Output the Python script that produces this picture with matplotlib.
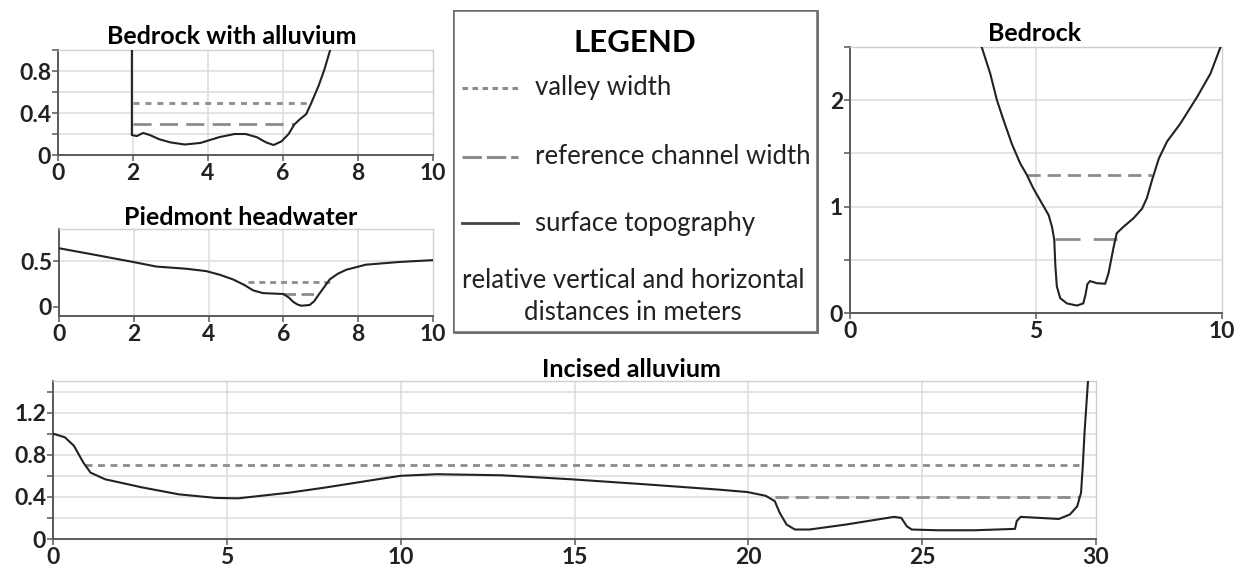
import matplotlib
matplotlib.use("Agg")
import matplotlib.pyplot as plt
from matplotlib.patches import Rectangle
from matplotlib.lines import Line2D

plt.rcParams['font.family'] = ['Lato', 'DejaVu Sans']
plt.rcParams['lines.scale_dashes'] = False

W, H = 1244, 574

# Bedrock with alluvium
bwa_x = [1.97, 1.97, 2.1, 2.27, 2.45, 2.7, 3.0, 3.38, 3.8, 4.3, 4.71, 5.0, 5.3, 5.55,
         5.75, 5.96, 6.15, 6.3, 6.45, 6.62, 6.76, 6.95, 7.1, 7.3]
bwa_y = [1.05, 0.19, 0.18, 0.21, 0.19, 0.15, 0.12, 0.10, 0.115, 0.17, 0.20, 0.20, 0.17, 0.12,
         0.095, 0.13, 0.20, 0.29, 0.34, 0.39, 0.50, 0.66, 0.81, 1.05]
bwa_valley = ([2.0, 6.65], 0.5)
bwa_channel = ([2.0, 6.3], 0.3)

# Piedmont headwater
pdm_x = [0, 1.0, 1.98, 2.6, 3.4, 3.94, 4.3, 4.65, 4.95, 5.19, 5.45, 6.0, 6.15, 6.26, 6.38,
         6.48, 6.7, 6.82, 6.93, 7.08, 7.24, 7.45, 7.68, 8.2, 9.1, 10.0]
pdm_y = [0.64, 0.565, 0.49, 0.44, 0.416, 0.39, 0.35, 0.30, 0.24, 0.18, 0.15, 0.14, 0.10, 0.055, 0.025,
         0.012, 0.02, 0.06, 0.125, 0.21, 0.30, 0.36, 0.405, 0.46, 0.49, 0.51]
pdm_valley = ([5.05, 7.24], 0.27)
pdm_channel = ([6.0, 6.9], 0.14)

# Bedrock
bed_x = [3.5, 3.54, 3.77, 3.95, 4.13, 4.35, 4.57, 4.75, 4.93, 5.11, 5.34, 5.43, 5.49, 5.52,
         5.56, 5.65, 5.83, 6.1, 6.27, 6.33, 6.38, 6.45, 6.64, 6.86, 6.95, 7.09, 7.17, 7.35,
         7.62, 7.85, 7.98, 8.12, 8.3, 8.52, 8.88, 9.33, 9.69, 9.96, 10.0]
bed_y = [2.55, 2.5, 2.25, 2.0, 1.81, 1.59, 1.41, 1.30, 1.17, 1.06, 0.92, 0.81, 0.69, 0.45,
         0.25, 0.14, 0.09, 0.07, 0.09, 0.17, 0.27, 0.30, 0.28, 0.275, 0.375, 0.625, 0.75, 0.81,
         0.89, 0.98, 1.08, 1.25, 1.45, 1.61, 1.78, 2.03, 2.25, 2.5, 2.55]
bed_valley = ([4.75, 8.12], 1.30)
bed_channel = ([5.52, 7.17], 0.70)

# Incised alluvium
inc_x = [0, 0.34, 0.6, 0.87, 1.08, 1.5, 2.56, 3.62, 4.68, 5.32, 6.8, 7.86, 9.34, 10.0, 11.04,
         12.9, 14.9, 17.0, 19.1, 19.97, 20.5, 20.76, 20.9, 21.1, 21.34, 21.76, 22.8, 24.19,
         24.4, 24.56, 24.7, 25.45, 26.5, 27.67, 27.72, 27.83, 28.4, 28.93, 29.25, 29.46,
         29.57, 29.62, 29.67, 29.78]
inc_y = [1.0, 0.966, 0.886, 0.727, 0.63, 0.567, 0.49, 0.424, 0.39, 0.386, 0.44, 0.49, 0.567,
         0.6, 0.615, 0.605, 0.567, 0.52, 0.47, 0.446, 0.41, 0.36, 0.25, 0.137, 0.09, 0.09,
         0.137, 0.21, 0.2, 0.12, 0.09, 0.083, 0.083, 0.096, 0.17, 0.21, 0.2, 0.19, 0.233,
         0.31, 0.44, 0.695, 1.01, 1.55]
inc_valley = ([0.92, 29.5], 0.7)
inc_channel = ([20.76, 29.5], 0.4)

DASH_C = '#8c8c8c'
LINE_C = '#222222'
GRID_C = '#dcdcdc'
AX_C = '#595959'
TICK_FS = 16.5
TITLE_FS = 18
TEXT_FS = 18.5

fig = plt.figure(figsize=(W / 100, H / 100), dpi=100)


def px_axes(left, top, right, bottom):
    return fig.add_axes([left / W, 1 - bottom / H, (right - left) / W, (bottom - top) / H])


def style(ax, xlim, ylim, xticks, yticks, xgrid, ygrid, yminor=()):
    ax.set_xlim(*xlim)
    ax.set_ylim(*ylim)
    ax.set_xticks(xticks)
    ax.set_xticklabels([f'{t:g}' for t in xticks])
    ax.set_yticks(yticks)
    ax.set_yticklabels([f'{t:g}' for t in yticks])
    ax.set_yticks(list(yminor), minor=True)
    for g in xgrid:
        ax.axvline(g, color=GRID_C, lw=1.1, zorder=0)
    for g in ygrid:
        ax.axhline(g, color=GRID_C, lw=1.1, zorder=0)
    for s in ('left', 'bottom'):
        ax.spines[s].set_color(AX_C)
        ax.spines[s].set_linewidth(1.4)
    for s in ('top', 'right'):
        ax.spines[s].set_color('#cfcfcf')
        ax.spines[s].set_linewidth(1.0)
    ax.tick_params(which='both', direction='out', length=4, width=1.1, color=AX_C,
                   labelsize=TICK_FS, pad=1)
    ax.tick_params(axis='x', pad=2)
    for lab in ax.get_xticklabels() + ax.get_yticklabels():
        lab.set_fontweight('bold')
        lab.set_color('#222222')


def widths(ax, valley, channel, vdash, cdash):
    ax.plot(valley[0], [valley[1]] * 2, color=DASH_C, lw=2.0, dashes=vdash, zorder=2)
    ax.plot(channel[0], [channel[1]] * 2, color=DASH_C, lw=2.0, dashes=cdash, zorder=2)


# top left panel
ax1 = px_axes(58, 50, 433, 155)
style(ax1, (0, 10), (0, 1.0), [0, 2, 4, 6, 8, 10], [0, 0.4, 0.8],
      [2, 4, 6, 8], [0.2, 0.4, 0.6, 0.8], yminor=[0.2, 0.6, 1.0])
widths(ax1, bwa_valley, bwa_channel, (4.3, 4.3), (13, 6))
ax1.plot(bwa_x, bwa_y, color=LINE_C, lw=1.5, zorder=3)
ax1.set_title('Bedrock with alluvium', fontsize=TITLE_FS, fontweight='bold', pad=4, x=0.464)

# middle left panel
ax2 = px_axes(59, 229, 433, 316)
style(ax2, (0, 10), (-0.1, 0.85), [0, 2, 4, 6, 8, 10], [0, 0.5],
      [2, 4, 6, 8], [0.5])
widths(ax2, pdm_valley, pdm_channel, (4.3, 3.5), (9, 4))
ax2.plot(pdm_x, pdm_y, color=LINE_C, lw=1.5, zorder=3)
ax2.set_title('Piedmont headwater', fontsize=TITLE_FS, fontweight='bold', pad=2, x=0.487)

# right panel
ax3 = px_axes(850, 47, 1222, 313)
style(ax3, (0, 10), (0, 2.5), [0, 5, 10], [0, 1, 2],
      [5], [0.5, 1.0, 1.5, 2.0], yminor=[0.5, 1.5, 2.5])
widths(ax3, bed_valley, bed_channel, (9.5, 5), (18, 9.5))
ax3.plot(bed_x, bed_y, color=LINE_C, lw=1.5, zorder=3)
ax3.set_title('Bedrock', fontsize=TITLE_FS, fontweight='bold', pad=4, x=0.495)

# bottom panel
ax4 = px_axes(53, 381, 1096, 539)
style(ax4, (0, 30), (0, 1.5), [0, 5, 10, 15, 20, 25, 30], [0, 0.4, 0.8, 1.2],
      [5, 10, 15, 20, 25], [0.2, 0.4, 0.6, 0.8, 1.0, 1.2, 1.4],
      yminor=[0.2, 0.6, 1.0, 1.4])
widths(ax4, inc_valley, inc_channel, (5, 4), (9.5, 5))
ax4.plot(inc_x, inc_y, color=LINE_C, lw=1.5, zorder=3)
ax4.set_title('Incised alluvium', fontsize=TITLE_FS, fontweight='bold', pad=3, x=0.555)

# legend box
lg = px_axes(453, 10, 820, 335)
lg.set_xlim(0, 367)
lg.set_ylim(325, 0)
lg.axis('off')
lg.add_patch(Rectangle((2, 2), 364, 322, facecolor='#9a9a9a', edgecolor='none', zorder=0))
lg.add_patch(Rectangle((0, 0), 364, 322, facecolor='white', edgecolor='#6a6a6a', lw=1.8, zorder=1))
lg.text(182, 33, 'LEGEND', ha='center', va='center', fontsize=22.5, fontweight='bold', zorder=2)
samples = [('valley width', (4, 3.2), 78), ('reference channel width', (14, 3.5), 147),
           ('surface topography', None, 213)]
for label, dash, yy in samples:
    if dash is None:
        lg.add_line(Line2D([9, 65], [yy, yy], color='#444444', lw=2.0, zorder=2))
    else:
        lg.add_line(Line2D([9, 65], [yy, yy], color=DASH_C, lw=2.2, dashes=dash, zorder=2))
    lg.text(82, yy, label, ha='left', va='center', fontsize=TEXT_FS, color='#222222', zorder=2)
lg.text(180, 270, 'relative vertical and horizontal', ha='center', va='center',
        fontsize=TEXT_FS, color='#222222', zorder=2)
lg.text(180, 303, 'distances in meters', ha='center', va='center',
        fontsize=TEXT_FS, color='#222222', zorder=2)

fig.savefig('out.png', dpi=100, facecolor='white')
